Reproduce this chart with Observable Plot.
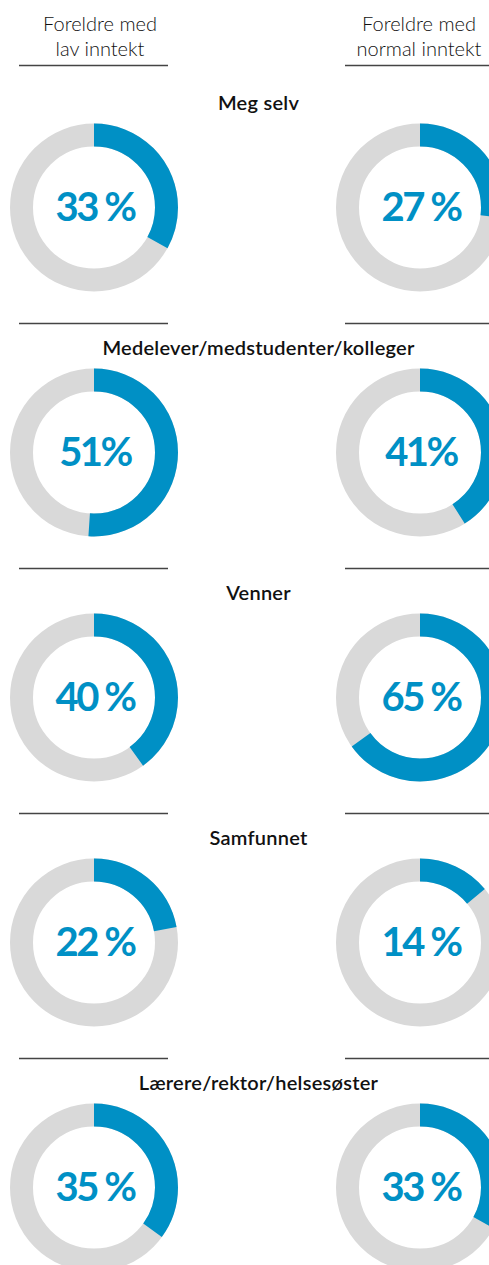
<!DOCTYPE html>
<html>
<head>
<meta charset="utf-8">
<script src="https://cdn.jsdelivr.net/npm/d3@7"></script>
<script src="https://cdn.jsdelivr.net/npm/@observablehq/plot@0.6"></script>
<style>
  html, body { margin: 0; padding: 0; background: #fff; overflow: hidden; width: 489px; }
  g[font-size="40"] text { letter-spacing: -2.5px; }
  g[font-weight="600"] text { letter-spacing: 0.25px; }
</style>
</head>
<body>
<div id="chart"></div>
<script>
// ---- data ----
const categories = ["Meg selv", "Medelever/medstudenter/kolleger", "Venner", "Samfunnet", "Lærere/rektor/helsesøster"];
const groups = ["lav", "normal"];
const groupHeaders = ["Foreldre med\nlav inntekt", "Foreldre med\nnormal inntekt"];
const lavValues = [33, 51, 40, 22, 35];
const normalValues = [27, 41, 65, 14, 33];
const percentLabels = {lav: ["33 %", "51%", "40 %", "22 %", "35 %"], normal: ["27 %", "41%", "65 %", "14 %", "33 %"]};

// ---- build table ----
const rows = [];
categories.forEach((c, i) => {
  rows.push({group: "lav", category: c, value: lavValues[i], label: percentLabels.lav[i]});
  rows.push({group: "normal", category: c, value: normalValues[i], label: percentLabels.normal[i]});
});
const headerRows = groups.map((g, i) => ({group: g, category: categories[0], text: groupHeaders[i]}));
const sepRows = [];
categories.slice(1).forEach(c => groups.forEach(g => sepRows.push({group: g, category: c})));

const blue = "#0090c5";
const grey = "#d9d9d9";
const R = 72.5, W = 23;
const C = 2 * Math.PI * R;

// circle symbol whose path starts at 12 o'clock and runs clockwise
const topCircle = {
  draw(ctx, size) {
    const r = Math.sqrt(size / Math.PI);
    ctx.moveTo(0, -r);
    ctx.arc(0, 0, r, -Math.PI / 2, 3 * Math.PI / 2);
    ctx.closePath();
  }
};

const font = "Lato, 'Open Sans', sans-serif";

const arcs = rows.map(d => Plot.dot([d], {
  x: "group", y: "category", r: R, symbol: topCircle,
  fill: "none", stroke: blue, strokeWidth: W,
  strokeDasharray: `${d.value / 100 * C} ${C + 2}`
}));

const chart = Plot.plot({
  width: 489,
  height: 1265,
  marginLeft: 27, marginRight: 0, marginTop: 0, marginBottom: 0,
  style: {fontFamily: font, background: "#fff", overflow: "visible"},
  x: {type: "band", domain: groups, range: [18.5, 493.5], paddingInner: 0.543, paddingOuter: 0, axis: null},
  y: {type: "point", domain: categories, range: [207, 1187], padding: 0, axis: null},
  marks: [
    // column headers
    Plot.text(headerRows.filter(d => d.group === "lav"), {x: "group", y: "category", text: "text", dy: -172, dx: 6, lineHeight: 1.28, fontSize: 20, fontWeight: 300, fill: "#111"}),
    Plot.text(headerRows.filter(d => d.group === "normal"), {x: "group", y: "category", text: "text", dy: -172, dx: -1, lineHeight: 1.28, fontSize: 20, fontWeight: 300, fill: "#111"}),
    Plot.tickY(headerRows, {x: "group", y: "category", dy: -142, stroke: "#444", strokeWidth: 1.3}),
    // separators
    Plot.tickY(sepRows, {x: "group", y: "category", dy: -129, stroke: "#444", strokeWidth: 1.3}),
    // category labels
    Plot.text(categories, {y: d => d, frameAnchor: "middle", dy: -104, fontSize: 20, fontWeight: 600, fill: "#111"}),
    // grey rings
    Plot.dot(rows, {x: "group", y: "category", r: R, fill: "none", stroke: grey, strokeWidth: W}),
    // blue arcs
    ...arcs,
    // percentages
    Plot.text(rows, {x: "group", y: "category", text: "label", dy: 1, dx: 1, fontSize: 40, fontWeight: 700, fill: blue})
  ]
});
document.getElementById("chart").append(chart);
</script>
</body>
</html>
